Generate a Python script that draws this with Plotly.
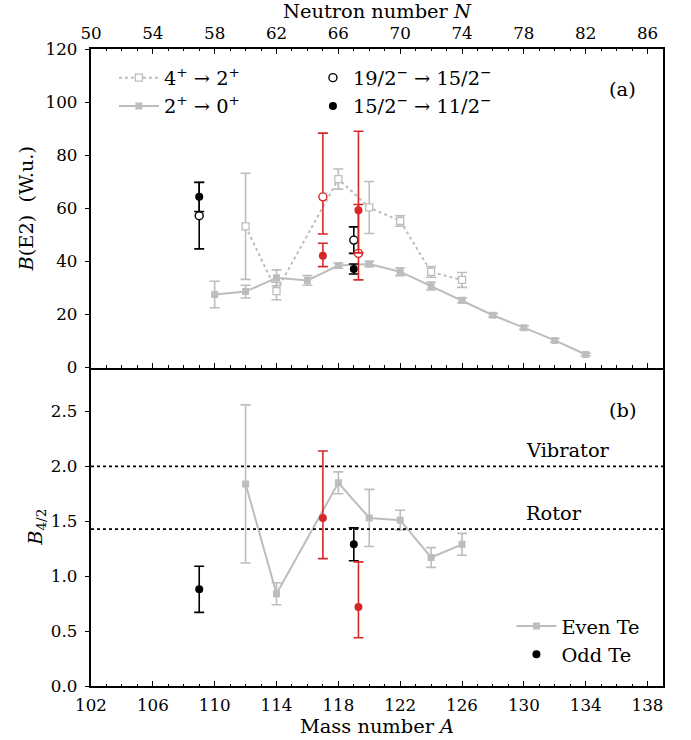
import plotly.graph_objects as go

# ---------------- data ----------------
# Top panel: B(E2) in W.u.
A_even_20 = [110, 112, 114, 116, 118, 120, 122, 124, 126, 128, 130, 132, 134]
B_20 = [27.5, 28.6, 33.8, 32.8, 38.4, 39.0, 36.1, 30.7, 25.3, 19.7, 15.0, 10.2, 4.9]
B_20_err = [5.0, 2.4, 3.0, 1.8, 1.0, 1.0, 1.5, 1.5, 1.0, 0.7, 0.7, 0.7, 0.5]

A_even_42 = [112, 114, 118, 120, 122, 124, 126]
B_42 = [53.2, 28.8, 71.0, 60.3, 55.2, 36.0, 33.0]
B_42_err = [20.0, 3.3, 3.8, 9.8, 2.0, 2.0, 2.8]

A_odd = [109, 119]
B_1915 = [57.2, 48.0]
B_1915_err = [12.5, 5.0]
B_1511 = [64.3, 37.1]
B_1511_err = [5.5, 1.9]

A_red = [117, 119.3]
B_red_1915 = [64.3, 43.0]
B_red_1915_up = [24.0, 46.0]
B_red_1915_dn = [14.0, 10.0]
B_red_1511 = [42.1, 59.2]
B_red_1511_up = [4.7, 2.2]
B_red_1511_dn = [4.1, 16.0]

# Bottom panel: B4/2 ratio
A_ratio_even = [112, 114, 118, 120, 122, 124, 126]
R_even = [1.84, 0.84, 1.85, 1.53, 1.51, 1.17, 1.29]
R_even_err = [0.72, 0.10, 0.10, 0.26, 0.09, 0.09, 0.10]

R_odd = [0.88, 1.29]
R_odd_err = [0.21, 0.15]

R_red = [1.53, 0.72]
R_red_up = [0.61, 0.41]
R_red_dn = [0.37, 0.28]

ref_levels = [2.0, 10 / 7]
ref_names = ["Vibrator", "Rotor"]

x_ticks_A = list(range(102, 139, 4))
Z_Te = 52
x_ticks_N = [a - Z_Te for a in x_ticks_A]

# ---------------- style ----------------
GRAY = "#bdbdbd"
RED = "#d62728"
BLACK = "#000000"
FONT = "DejaVu Serif"
TICK_FS = 16.7
TXT_FS = 19.4

fig = go.Figure()


def err(arr, w=5, color=BLACK, arrminus=None):
    d = dict(type="data", array=arr, visible=True, color=color, thickness=1.6, width=w)
    if arrminus is not None:
        d["symmetric"] = False
        d["arrayminus"] = arrminus
    return d


# top panel traces
fig.add_trace(go.Scatter(
    x=A_even_42, y=B_42, mode="lines+markers", name="4<sup>+</sup> → 2<sup>+</sup>",
    line=dict(color=GRAY, width=2, dash="dot"),
    marker=dict(symbol="square", size=7, color="white", line=dict(color=GRAY, width=1.3)),
    error_y=err(B_42_err, color=GRAY), xaxis="x", yaxis="y", legend="legend"))
fig.add_trace(go.Scatter(
    x=A_even_20, y=B_20, mode="lines+markers", name="2<sup>+</sup> → 0<sup>+</sup>",
    line=dict(color=GRAY, width=2),
    marker=dict(symbol="square", size=7, color=GRAY),
    error_y=err(B_20_err, color=GRAY), xaxis="x", yaxis="y", legend="legend"))
fig.add_trace(go.Scatter(
    x=A_odd, y=B_1915, mode="markers", name="19/2<sup>−</sup> → 15/2<sup>−</sup>",
    marker=dict(symbol="circle", size=8, color="white", line=dict(color=BLACK, width=1.4)),
    error_y=err(B_1915_err), xaxis="x", yaxis="y", legend="legend3"))
fig.add_trace(go.Scatter(
    x=A_odd, y=B_1511, mode="markers", name="15/2<sup>−</sup> → 11/2<sup>−</sup>",
    marker=dict(symbol="circle", size=8, color=BLACK),
    error_y=err(B_1511_err), xaxis="x", yaxis="y", legend="legend3"))
fig.add_trace(go.Scatter(
    x=A_red, y=B_red_1915, mode="markers", showlegend=False,
    marker=dict(symbol="circle", size=8, color="white", line=dict(color=RED, width=1.4)),
    error_y=err(B_red_1915_up, color=RED, arrminus=B_red_1915_dn), xaxis="x", yaxis="y"))
fig.add_trace(go.Scatter(
    x=A_red, y=B_red_1511, mode="markers", showlegend=False,
    marker=dict(symbol="circle", size=8, color=RED),
    error_y=err(B_red_1511_up, color=RED, arrminus=B_red_1511_dn), xaxis="x", yaxis="y"))

# bottom panel traces
fig.add_trace(go.Scatter(
    x=A_ratio_even, y=R_even, mode="lines+markers", name="Even Te",
    line=dict(color=GRAY, width=2),
    marker=dict(symbol="square", size=7, color=GRAY),
    error_y=err(R_even_err, color=GRAY), xaxis="x2", yaxis="y2", legend="legend2"))
fig.add_trace(go.Scatter(
    x=A_odd, y=R_odd, mode="markers", name="Odd Te",
    marker=dict(symbol="circle", size=8, color=BLACK),
    error_y=err(R_odd_err), xaxis="x2", yaxis="y2", legend="legend2"))
fig.add_trace(go.Scatter(
    x=A_red, y=R_red, mode="markers", showlegend=False,
    marker=dict(symbol="circle", size=8, color=RED),
    error_y=err(R_red_up, color=RED, arrminus=R_red_dn), xaxis="x2", yaxis="y2"))

# reference lines
for lvl, nm in zip(ref_levels, ref_names):
    fig.add_shape(type="line", xref="x2 domain", yref="y2", x0=0, x1=1, y0=lvl, y1=lvl,
                  line=dict(color=BLACK, width=1.6, dash="dot"))
    fig.add_annotation(x=130, y=lvl + 0.14, xref="x2", yref="y2", text=nm, showarrow=False,
                       xanchor="left", yanchor="middle", font=dict(family=FONT, size=TXT_FS, color=BLACK))

fig.add_annotation(x=0.93, y=0.872, xref="x domain", yref="y domain", text="(a)", showarrow=False,
                   xanchor="center", yanchor="middle", font=dict(family=FONT, size=TXT_FS, color=BLACK))
fig.add_annotation(x=0.93, y=0.866, xref="x2 domain", yref="y2 domain", text="(b)", showarrow=False,
                   xanchor="center", yanchor="middle", font=dict(family=FONT, size=TXT_FS, color=BLACK))

tickfont = dict(family=FONT, size=TICK_FS, color=BLACK)
titlefont = dict(family=FONT, size=TXT_FS, color=BLACK)

minor = dict(dtick=1, tick0=102, ticks="inside", ticklen=2.5, tickcolor=BLACK, showgrid=False)
ycommon = dict(ticks="outside", ticklen=4.5, tickwidth=1.2, tickcolor=BLACK, showline=True,
               linecolor=BLACK, linewidth=1.5, mirror=True, showgrid=False, zeroline=False,
               tickfont=tickfont, ticklabelstandoff=4, automargin=False)

legfont = dict(family=FONT, size=TXT_FS, color=BLACK)
fig.update_layout(
    width=691, height=740,
    margin=dict(l=91, r=28, t=49, b=54, autoexpand=False),
    paper_bgcolor="white", plot_bgcolor="white",
    font=dict(family=FONT, color=BLACK),
    # top panel x axis: labelled on top with neutron number N = A - Z
    xaxis=dict(range=[102, 139], tickvals=x_ticks_A, ticktext=[str(n) for n in x_ticks_N],
               side="top", anchor="y", ticks="inside", ticklen=5, tickwidth=1.2, tickcolor=BLACK,
               showline=True, linecolor=BLACK, linewidth=1.5, mirror="ticks",
               showgrid=False, zeroline=False, tickfont=tickfont, ticklabelstandoff=2,
               minor=minor, automargin=False,
               title=dict(text="Neutron number <i>N</i>", font=titlefont, standoff=6)),
    xaxis2=dict(range=[102, 139], tickvals=x_ticks_A, anchor="y2", ticks="inside", ticklen=5,
                tickwidth=1.2, tickcolor=BLACK, showline=True, linecolor=BLACK, linewidth=1.5,
                mirror=False, showgrid=False, zeroline=False, tickfont=tickfont,
                ticklabelstandoff=3, minor=minor, automargin=False,
                title=dict(text="Mass number <i>A</i>", font=titlefont, standoff=6)),
    yaxis=dict(ycommon, domain=[0.5, 1], range=[0, 120], tickvals=[0, 20, 40, 60, 80, 100, 120],
               anchor="x", title=dict(text="<i>B</i>(E2)  (W.u.)", font=titlefont, standoff=7)),
    yaxis2=dict(ycommon, domain=[0, 0.5], range=[0, 2.9],
                tickvals=[0, 0.5, 1.0, 1.5, 2.0, 2.5], ticktext=["0.0", "0.5", "1.0", "1.5", "2.0", "2.5"],
                anchor="x2", title=dict(text="<i>B</i><sub>4/2</sub>", font=titlefont, standoff=3)),
    legend=dict(x=0.04, y=0.985, xanchor="left", yanchor="top", bgcolor="rgba(0,0,0,0)",
                font=legfont, tracegroupgap=0, itemwidth=40),
    legend3=dict(x=0.388, y=0.985, xanchor="left", yanchor="top", bgcolor="rgba(0,0,0,0)",
                 font=legfont, itemwidth=30),
    legend2=dict(x=0.735, y=0.124, xanchor="left", yanchor="top", bgcolor="rgba(0,0,0,0)",
                 font=legfont, itemwidth=40),
    showlegend=True,
)

fig.write_html("out.html")
